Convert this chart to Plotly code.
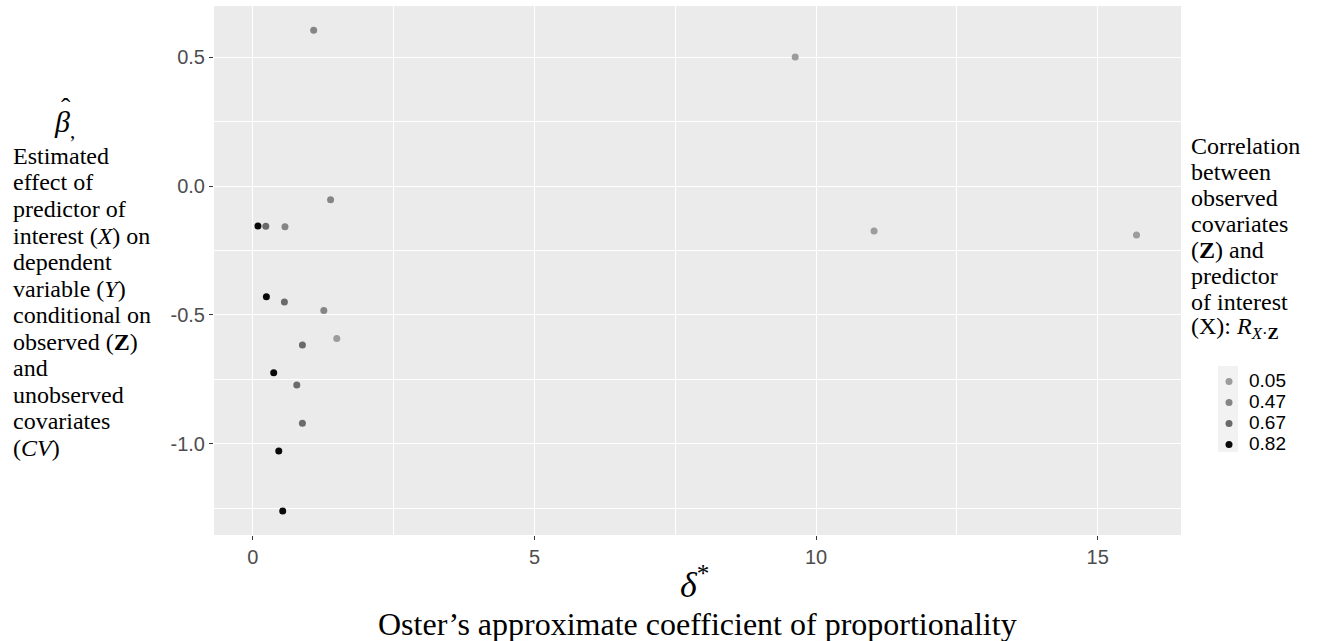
import plotly.graph_objects as go

# ---- data ----
groups = ["0.05", "0.47", "0.67", "0.82"]
delta_005 = [9.63, 11.03, 15.69, 1.49]
beta_005 = [0.50, -0.174, -0.19, -0.591]
delta_047 = [1.08, 1.38, 0.57, 1.26]
beta_047 = [0.604, -0.053, -0.158, -0.483]
delta_067 = [0.23, 0.56, 0.88, 0.78, 0.88]
beta_067 = [-0.156, -0.45, -0.616, -0.771, -0.92]
delta_082 = [0.09, 0.24, 0.37, 0.46, 0.53]
beta_082 = [-0.155, -0.429, -0.724, -1.027, -1.26]

x_ticks = [0, 5, 10, 15]
x_ticklabels = ["0", "5", "10", "15"]
y_ticks = [0.5, 0.0, -0.5, -1.0]
y_ticklabels = ["0.5", "0.0", "-0.5", "-1.0"]

colors = ["#9c9c9c", "#858585", "#6a6a6a", "#0a0a0a"]
series = [(delta_005, beta_005), (delta_047, beta_047), (delta_067, beta_067), (delta_082, beta_082)]

W, H = 1331, 641
L, R, T, B = 214, 1181, 6, 535

def px(xp):
    return (xp - L) / (R - L)

def py(yp):
    return (B - yp) / (B - T)

SERIF = "Liberation Serif"
SANS = "Liberation Sans"

fig = go.Figure()
for g, (xs, ys), c in zip(groups, series, colors):
    fig.add_trace(go.Scatter(x=xs, y=ys, mode="markers",
                             name=f"<span style='font-size:19px'>{g}</span>",
                             marker=dict(color=c, size=7, line=dict(width=0))))

fig.update_layout(
    width=W, height=H,
    margin=dict(l=L, r=W - R, t=T, b=H - B, pad=0),
    paper_bgcolor="white", plot_bgcolor="#EBEBEB",
    showlegend=True,
    legend=dict(x=px(1209), y=py(366), xanchor="left", yanchor="top",
                font=dict(family=SANS, size=13.85, color="black"),
                bgcolor="rgba(0,0,0,0)", tracegroupgap=0, itemwidth=30,
                title=dict(text="")),
    xaxis=dict(range=[-0.69, 16.48], tickvals=x_ticks, ticktext=x_ticklabels,
               showgrid=True, gridcolor="white", gridwidth=1.4,
               zeroline=False, ticks="outside", ticklen=4, tickcolor="#333333",
               tickwidth=1, showline=False,
               tickfont=dict(family=SANS, size=20, color="#4D4D4D"),
               minor=dict(tickvals=[2.5, 7.5, 12.5], showgrid=True,
                          gridcolor="white", gridwidth=0.7, ticks="")),
    yaxis=dict(range=[-1.353, 0.698], tickvals=y_ticks, ticktext=y_ticklabels,
               showgrid=True, gridcolor="white", gridwidth=1.4,
               zeroline=False, ticks="outside", ticklen=4, tickcolor="#333333",
               tickwidth=1, showline=False,
               tickfont=dict(family=SANS, size=20, color="#4D4D4D"),
               minor=dict(tickvals=[0.25, -0.25, -0.75, -1.25], showgrid=True,
                          gridcolor="white", gridwidth=0.7, ticks="")),
)

ann = []
# x-axis titles
ann.append(dict(text="<i>δ</i><sup>*</sup>", x=px(694), y=py(582), xref="paper", yref="paper",
                showarrow=False, font=dict(family=SERIF, size=36, color="black"),
                xanchor="center", yanchor="middle"))
ann.append(dict(text="Oster’s approximate coefficient of proportionality", x=px(697), y=py(624),
                xref="paper", yref="paper", showarrow=False,
                font=dict(family=SERIF, size=32, color="black"), xanchor="center", yanchor="middle"))

# y-axis title lines
ann.append(dict(text="<i>β</i><sub>,</sub>", x=px(52), y=py(124), xref="paper", yref="paper",
                showarrow=False, font=dict(family=SERIF, size=30, color="black"),
                xanchor="left", yanchor="middle"))
ann.append(dict(text="ˆ", x=px(66), y=py(108), xref="paper", yref="paper",
                showarrow=False, font=dict(family=SERIF, size=28, color="black"),
                xanchor="center", yanchor="middle"))
ylines = ["Estimated", "effect of", "predictor of", "interest (<i>X</i>) on", "dependent",
          "variable (<i>Y</i>)", "conditional on", "observed (<b>Z</b>)", "and",
          "unobserved", "covariates", "(<i>CV</i>)"]
y0 = 156
for i, t in enumerate(ylines):
    ann.append(dict(text=t, x=px(11), y=py(y0 + i * 26.5), xref="paper", yref="paper",
                    showarrow=False, font=dict(family=SERIF, size=24, color="black"),
                    xanchor="left", yanchor="middle"))

# legend title lines
llines = ["Correlation", "between", "observed", "covariates", "(<b>Z</b>) and", "predictor",
          "of interest", "(X): <i>R</i><sub><i>X</i>·<b>Z</b></sub>"]
for i, t in enumerate(llines):
    ann.append(dict(text=t, x=px(1189), y=py(146 + i * 26), xref="paper", yref="paper",
                    showarrow=False, font=dict(family=SERIF, size=24, color="black"),
                    xanchor="left", yanchor="middle"))
fig.update_layout(annotations=ann)

# legend key background
fig.add_shape(type="rect", xref="paper", yref="paper", x0=px(1218), x1=px(1238),
              y0=py(452), y1=py(366), fillcolor="#F2F2F2", line=dict(width=0), layer="below")

fig.write_html("out.html")
